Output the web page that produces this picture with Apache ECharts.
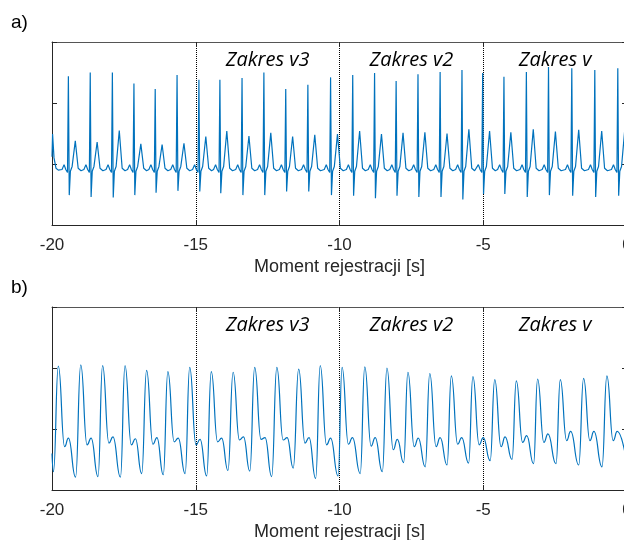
<!DOCTYPE html>
<html><head><meta charset="utf-8">
<script src="https://cdn.jsdelivr.net/npm/echarts@6/dist/echarts.min.js"></script>
<style>html,body{margin:0;padding:0;background:#fff}#c{width:624px;height:540px}</style>
</head><body><div id="c"></div>
<script>
// ---- data (time in s, amplitude in arbitrary units) ----
const xMin = -20, xMax = 0, xStep = 5;
const yMin = 0, yMax = 3, yStep = 1;
const axisTitle = 'Moment rejestracji [s]';
const panelLabels = ['a)', 'b)'];
const rangeLabels = ['Zakres v3', 'Zakres v2', 'Zakres v'];
const rangeCenters = [-12.5, -7.5, -2.5];
const rangeLabelLevel = 2.70;

// panel a) ECG
const ecgPoints = [
  [-20.00,1.12],[-19.98,1.49],[-19.93,1.10],[-19.86,0.93],[-19.78,0.90],
  [-19.65,0.91],[-19.58,0.99],[-19.52,0.91],[-19.46,0.86],[-19.43,2.44],[-19.40,0.49],[-19.36,0.88],[-19.30,0.96],[-19.19,1.38],[-19.09,0.93],[-18.99,0.89],
  [-18.89,0.91],[-18.82,0.99],[-18.76,0.91],[-18.70,0.86],[-18.67,2.50],[-18.64,0.46],[-18.60,0.88],[-18.54,0.96],[-18.43,1.36],[-18.33,0.93],[-18.23,0.89],
  [-18.12,0.91],[-18.05,0.99],[-17.99,0.91],[-17.93,0.86],[-17.90,2.50],[-17.87,0.45],[-17.83,0.88],[-17.77,0.96],[-17.66,1.55],[-17.56,0.93],[-17.46,0.89],
  [-17.37,0.91],[-17.30,0.99],[-17.24,0.91],[-17.18,0.86],[-17.15,2.32],[-17.12,0.49],[-17.08,0.88],[-17.02,0.96],[-16.91,1.33],[-16.81,0.93],[-16.71,0.89],
  [-16.63,0.91],[-16.56,0.99],[-16.50,0.91],[-16.44,0.86],[-16.41,2.23],[-16.38,0.53],[-16.34,0.88],[-16.28,0.96],[-16.17,1.32],[-16.07,0.93],[-15.97,0.89],
  [-15.87,0.91],[-15.80,0.99],[-15.74,0.91],[-15.68,0.86],[-15.65,2.46],[-15.62,0.56],[-15.58,0.88],[-15.52,0.96],[-15.41,1.34],[-15.31,0.93],[-15.21,0.89],
  [-15.11,0.91],[-15.04,0.99],[-14.98,0.91],[-14.92,0.86],[-14.89,2.38],[-14.86,0.55],[-14.82,0.88],[-14.76,0.96],[-14.65,1.45],[-14.55,0.93],[-14.45,0.89],
  [-14.38,0.91],[-14.31,0.99],[-14.25,0.91],[-14.19,0.86],[-14.16,2.38],[-14.13,0.52],[-14.09,0.88],[-14.03,0.96],[-13.92,1.54],[-13.82,0.93],[-13.72,0.89],
  [-13.61,0.91],[-13.54,0.99],[-13.48,0.91],[-13.42,0.86],[-13.39,2.41],[-13.36,0.49],[-13.32,0.88],[-13.26,0.96],[-13.15,1.46],[-13.05,0.93],[-12.95,0.89],
  [-12.85,0.91],[-12.78,0.99],[-12.72,0.91],[-12.66,0.86],[-12.63,2.50],[-12.60,0.49],[-12.56,0.88],[-12.50,0.96],[-12.39,1.51],[-12.29,0.93],[-12.19,0.89],
  [-12.09,0.91],[-12.02,0.99],[-11.96,0.91],[-11.90,0.86],[-11.87,2.23],[-11.84,0.55],[-11.80,0.88],[-11.74,0.96],[-11.63,1.45],[-11.53,0.93],[-11.43,0.89],
  [-11.32,0.91],[-11.25,0.99],[-11.19,0.91],[-11.13,0.86],[-11.10,2.30],[-11.07,0.55],[-11.03,0.88],[-10.97,0.96],[-10.86,1.48],[-10.76,0.93],[-10.66,0.89],
  [-10.53,0.91],[-10.46,0.99],[-10.40,0.91],[-10.34,0.86],[-10.31,2.42],[-10.28,0.49],[-10.24,0.88],[-10.18,0.96],[-10.07,1.49],[-9.97,0.93],[-9.87,0.89],
  [-9.76,0.91],[-9.69,0.99],[-9.63,0.91],[-9.57,0.86],[-9.54,2.46],[-9.51,0.48],[-9.47,0.88],[-9.41,0.96],[-9.30,1.54],[-9.20,0.93],[-9.10,0.89],
  [-9.00,0.91],[-8.93,0.99],[-8.87,0.91],[-8.81,0.86],[-8.78,2.49],[-8.75,0.44],[-8.71,0.88],[-8.65,0.96],[-8.54,1.49],[-8.44,0.93],[-8.34,0.89],
  [-8.25,0.91],[-8.18,0.99],[-8.12,0.91],[-8.06,0.86],[-8.03,2.36],[-8.00,0.48],[-7.96,0.88],[-7.90,0.96],[-7.79,1.51],[-7.69,0.93],[-7.59,0.89],
  [-7.49,0.91],[-7.42,0.99],[-7.36,0.91],[-7.30,0.86],[-7.27,2.47],[-7.24,0.46],[-7.20,0.88],[-7.14,0.96],[-7.03,1.52],[-6.93,0.93],[-6.83,0.89],
  [-6.72,0.91],[-6.65,0.99],[-6.59,0.91],[-6.53,0.86],[-6.50,2.51],[-6.47,0.46],[-6.43,0.88],[-6.37,0.96],[-6.26,1.50],[-6.16,0.93],[-6.06,0.89],
  [-5.96,0.91],[-5.89,0.99],[-5.83,0.91],[-5.77,0.86],[-5.74,2.54],[-5.71,0.42],[-5.67,0.88],[-5.61,0.96],[-5.50,1.57],[-5.40,0.93],[-5.30,0.89],
  [-5.24,0.91],[-5.17,0.99],[-5.11,0.91],[-5.05,0.86],[-5.02,2.49],[-4.99,0.51],[-4.95,0.88],[-4.89,0.96],[-4.78,1.54],[-4.68,0.93],[-4.58,0.89],
  [-4.50,0.91],[-4.43,0.99],[-4.37,0.91],[-4.31,0.86],[-4.28,2.43],[-4.25,0.51],[-4.21,0.88],[-4.15,0.96],[-4.04,1.52],[-3.94,0.93],[-3.84,0.89],
  [-3.72,0.91],[-3.65,0.99],[-3.59,0.91],[-3.53,0.86],[-3.50,2.51],[-3.47,0.46],[-3.43,0.88],[-3.37,0.96],[-3.26,1.57],[-3.16,0.93],[-3.06,0.89],
  [-2.95,0.91],[-2.88,0.99],[-2.82,0.91],[-2.76,0.86],[-2.73,2.59],[-2.70,0.49],[-2.66,0.88],[-2.60,0.96],[-2.49,1.53],[-2.39,0.93],[-2.29,0.89],
  [-2.14,0.91],[-2.07,0.99],[-2.01,0.91],[-1.95,0.86],[-1.92,2.57],[-1.89,0.48],[-1.85,0.88],[-1.79,0.96],[-1.68,1.56],[-1.58,0.93],[-1.48,0.89],
  [-1.34,0.91],[-1.27,0.99],[-1.21,0.91],[-1.15,0.86],[-1.12,2.54],[-1.09,0.46],[-1.05,0.88],[-0.99,0.96],[-0.88,1.54],[-0.78,0.93],[-0.68,0.89],
  [-0.54,0.91],[-0.47,0.99],[-0.41,0.91],[-0.35,0.86],[-0.32,2.57],[-0.29,0.48],[-0.25,0.88],[-0.19,0.96],[-0.08,1.55],[0.00,1.10]
];

// panel b) pulse wave: trough, systolic peak, dicrotic notch, diastolic bump per beat
const ppgPoints = [
  [-20.00,0.60],
  [-19.95,0.30],[-19.78,2.03],[-19.56,0.71],[-19.43,0.85],
  [-19.18,0.21],[-19.00,2.05],[-18.78,0.74],[-18.64,0.85],
  [-18.40,0.22],[-18.24,2.04],[-18.02,0.77],[-17.88,0.87],
  [-17.62,0.21],[-17.46,2.04],[-17.24,0.74],[-17.10,0.84],
  [-16.88,0.27],[-16.71,1.96],[-16.49,0.75],[-16.35,0.86],
  [-16.13,0.25],[-15.97,1.94],[-15.75,0.79],[-15.61,0.85],
  [-15.37,0.27],[-15.21,2.01],[-14.99,0.74],[-14.85,0.83],
  [-14.62,0.23],[-14.46,1.94],[-14.24,0.79],[-14.10,0.85],
  [-13.88,0.32],[-13.70,1.93],[-13.48,0.82],[-13.34,0.87],
  [-13.12,0.31],[-12.95,2.01],[-12.73,0.83],[-12.59,0.86],
  [-12.36,0.22],[-12.18,2.01],[-11.96,0.82],[-11.82,0.86],
  [-11.61,0.36],[-11.42,1.98],[-11.20,0.77],[-11.06,0.86],
  [-10.83,0.19],[-10.67,2.04],[-10.45,0.74],[-10.31,0.85],
  [-10.05,0.23],[-9.91,2.01],[-9.69,0.75],[-9.55,0.86],
  [-9.28,0.27],[-9.12,2.02],[-8.90,0.72],[-8.76,0.86],
  [-8.51,0.30],[-8.35,2.00],[-8.13,0.66],[-7.99,0.83],
  [-7.77,0.45],[-7.62,1.93],[-7.40,0.71],[-7.26,0.85],
  [-7.02,0.38],[-6.86,1.91],[-6.64,0.71],[-6.50,0.86],
  [-6.26,0.41],[-6.11,1.87],[-5.89,0.75],[-5.75,0.86],
  [-5.51,0.44],[-5.36,1.86],[-5.14,0.74],[-5.00,0.86],
  [-4.76,0.48],[-4.60,1.81],[-4.38,0.71],[-4.24,0.87],
  [-4.00,0.50],[-3.85,1.79],[-3.63,0.78],[-3.49,0.89],
  [-3.25,0.43],[-3.11,1.82],[-2.89,0.78],[-2.75,0.92],
  [-2.47,0.43],[-2.32,1.81],[-2.10,0.81],[-1.96,0.96],
  [-1.68,0.41],[-1.51,1.83],[-1.29,0.81],[-1.15,0.96],
  [-0.87,0.38],[-0.70,1.87],[-0.48,0.81],[-0.34,0.96],
  [0.00,0.42]
];

// ---- chart ----
const AX = '#262626';
const LINE = '#0072BD';
const TICK_FONT = 'Liberation Sans, Arial, sans-serif';
const chart = echarts.init(document.getElementById('c'), null, {renderer: 'canvas'});

const gridA = {left: 52, top: 42, width: 575, height: 183, outerBoundsMode: 'none', containLabel: false};
const gridB = {left: 52, top: 307, width: 575, height: 183, outerBoundsMode: 'none', containLabel: false};

function bottomX(gi) {
  return {
    gridIndex: gi, type: 'value', position: 'bottom', min: xMin, max: xMax, interval: xStep,
    axisLine: {show: true, onZero: false, lineStyle: {color: AX, width: 1}},
    axisTick: {show: true, inside: true, length: 5, lineStyle: {color: AX}},
    axisLabel: {show: true, margin: 12, fontSize: 17, color: AX, fontFamily: TICK_FONT},
    splitLine: {show: true, lineStyle: {type: 'dotted', color: '#000', width: 1}},
    name: axisTitle, nameLocation: 'middle', nameGap: 33,
    nameTextStyle: {fontSize: 18, color: AX, fontFamily: TICK_FONT}
  };
}
function topX(gi) {
  return {
    gridIndex: gi, type: 'value', position: 'top', min: xMin, max: xMax, interval: xStep,
    axisLine: {show: true, onZero: false, lineStyle: {color: '#555', width: 1}},
    axisTick: {show: true, inside: true, length: 5, lineStyle: {color: AX}},
    axisLabel: {show: false}, splitLine: {show: false}
  };
}
function sideY(gi, pos) {
  return {
    gridIndex: gi, type: 'value', position: pos, min: yMin, max: yMax, interval: yStep,
    axisLine: {show: true, onZero: false, lineStyle: {color: AX, width: 1}},
    axisTick: {show: true, inside: true, length: 5, lineStyle: {color: AX}},
    axisLabel: {show: false}, splitLine: {show: false}
  };
}

chart.setOption({
  animation: false,
  backgroundColor: '#fff',
  grid: [gridA, gridB],
  xAxis: [bottomX(0), topX(0), bottomX(1), topX(1)],
  yAxis: [sideY(0, 'left'), sideY(0, 'right'), sideY(1, 'left'), sideY(1, 'right')],
  series: [
    {type: 'line', xAxisIndex: 0, yAxisIndex: 0, data: ecgPoints, showSymbol: false, smooth: false,
     lineStyle: {color: LINE, width: 1.2}, clip: true, z: 3},
    {type: 'line', xAxisIndex: 2, yAxisIndex: 2, data: ppgPoints, showSymbol: false,
     smooth: 0.5, smoothMonotone: 'x', lineStyle: {color: LINE, width: 1.2}, clip: true, z: 3}
  ]
});

// text overlays positioned through the axes
const graphics = [];
[0, 1].forEach(function (gi) {
  rangeLabels.forEach(function (txt, i) {
    const p = chart.convertToPixel({gridIndex: gi}, [rangeCenters[i], rangeLabelLevel]);
    graphics.push({type: 'text', x: p[0], y: p[1], z: 10,
      style: {text: txt, fill: '#000', align: 'center', verticalAlign: 'middle',
              font: 'italic 20px "Open Sans", sans-serif'}});
  });
});
graphics.push({type: 'text', left: 11, top: 13, style: {text: panelLabels[0], fill: '#000', font: '19px "Liberation Sans", Arial, sans-serif'}});
graphics.push({type: 'text', left: 11, top: 278, style: {text: panelLabels[1], fill: '#000', font: '19px "Liberation Sans", Arial, sans-serif'}});
chart.setOption({graphic: graphics});
</script></body></html>
